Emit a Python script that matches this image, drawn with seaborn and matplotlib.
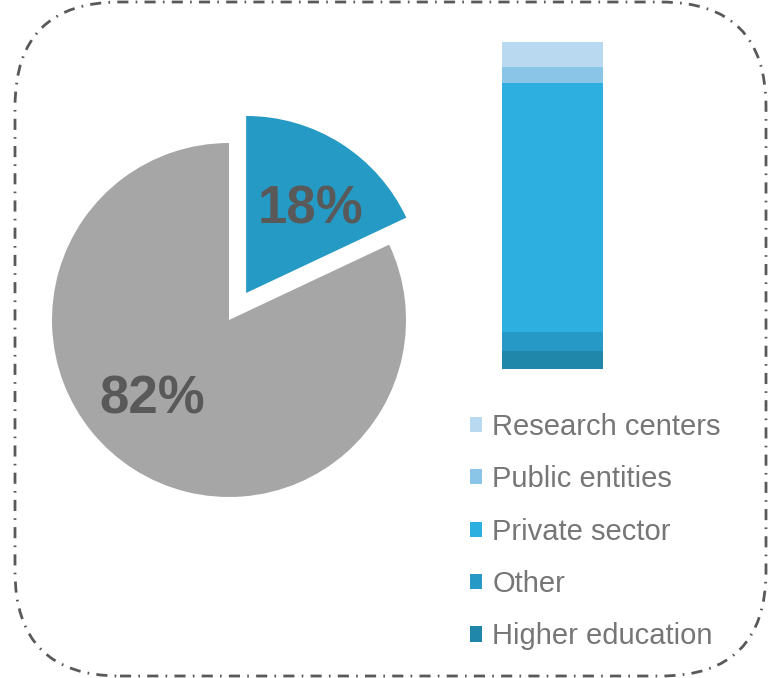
import matplotlib
matplotlib.use("Agg")
import matplotlib.pyplot as plt
import seaborn as sns
import pandas as pd
import numpy as np
from matplotlib.patches import FancyBboxPatch, Patch

sns.set_style("white")
plt.rcParams["font.family"] = ["Liberation Sans", "DejaVu Sans"]

# pie: share of the total
pie_labels = ["18%", "82%"]
pie_values = [18, 82]
pie_colors = ["#259AC5", "#A6A6A6"]

# stacked bar: breakdown, bottom -> top
seg_names = ["Higher education", "Other", "Private sector", "Public entities", "Research centers"]
seg_values = [5.5, 5.8, 76.1, 4.9, 7.7]
seg_colors = ["#2086AA", "#2699C6", "#2DAFE0", "#8AC5E8", "#B8D9F0"]

W, H = 768, 678
fig = plt.figure(figsize=(W / 100, H / 100), dpi=100)

# dash-dot rounded frame
bg = fig.add_axes([0, 0, 1, 1])
bg.set_xlim(0, W)
bg.set_ylim(0, H)
bg.axis("off")
frame = FancyBboxPatch((15, 2), 751, 674, boxstyle="round,pad=0,rounding_size=105",
                       fill=False, edgecolor="#595959", linewidth=2,
                       linestyle=(0, (4, 2.6, 0.6, 2.6)))
bg.add_patch(frame)

# pie
cx, cy, r = 229, 320, 177
lim = 1.25
half = lim * r
ax_pie = fig.add_axes([(cx - half) / W, (H - cy - half) / H, 2 * half / W, 2 * half / H])
ax_pie.patch.set_alpha(0)
ax_pie.pie(pie_values, colors=pie_colors, startangle=90, counterclock=False,
           explode=[32 / r, 0], wedgeprops=dict(linewidth=0))
ax_pie.set_xlim(-lim, lim)
ax_pie.set_ylim(-lim, lim)
ax_pie.set_aspect("equal")
ax_pie.axis("off")
ax_pie.text((310 - cx) / r, (cy - 210) / r, pie_labels[0], ha="center", va="center",
            fontsize=38, fontweight="bold", color="#595959")
ax_pie.text((152 - cx) / r, (cy - 399) / r, pie_labels[1], ha="center", va="center",
            fontsize=38, fontweight="bold", color="#595959")

# stacked bar (overlapping cumulative bars, top segment drawn first)
bx0, bx1, by0, by1 = 502, 603, 42, 369
ax_bar = fig.add_axes([bx0 / W, (H - by1) / H, (bx1 - bx0) / W, (by1 - by0) / H])
ax_bar.patch.set_alpha(0)
cum = np.cumsum(seg_values)
df = pd.DataFrame({"seg": seg_names, "cum": cum, "color": seg_colors})
for i in range(len(df) - 1, -1, -1):
    sns.barplot(x=[0], y=[df["cum"][i]], color=df["color"][i], width=1,
                saturation=1, ax=ax_bar, linewidth=0)
ax_bar.set_xlim(-0.5, 0.5)
ax_bar.set_ylim(0, cum[-1])
ax_bar.axis("off")

handles = [Patch(facecolor=c, edgecolor="none", label=n)
           for n, c in zip(seg_names[::-1], seg_colors[::-1])]
fig.legend(handles=handles, loc="upper left", bbox_to_anchor=(470 / W, 1 - 413 / H),
           frameon=False, fontsize=21, labelcolor="#767676",
           handlelength=0.42, handleheight=0.42, handletextpad=0.35,
           labelspacing=0.835, borderpad=0, borderaxespad=0)

fig.savefig("out.png", dpi=100)
